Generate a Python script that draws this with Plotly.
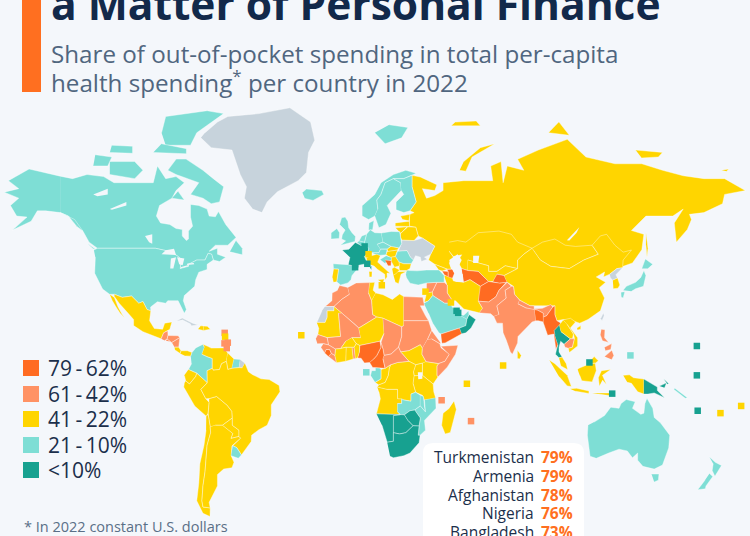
import numpy as np
import plotly.graph_objects as go

# ---- chart values -------------------------------------------------------
BUCKET_LABELS = ["79\u2009-\u200962%", "61\u2009-\u200942%", "41\u2009-\u200922%", "21\u2009-\u200910%", "<10%"]
BUCKET_COLORS = ["#FF6B22", "#FF9264", "#FFD500", "#7EDED5", "#17A190"]
NO_DATA_COLOR = "#C7D3DC"
TOP_COUNTRIES = ["Turkmenistan", "Armenia", "Afghanistan", "Nigeria", "Bangladesh"]
TOP_VALUES = ["79%", "79%", "78%", "76%", "73%"]

B1 = ["Turkmenistan", "Armenia", "Azerbaijan", "Afghanistan", "Tajikistan", "Nigeria", "Cameroon", "Sierra Leone", "Bangladesh", "Myanmar", "Yemen", "Bosnia"]
B2 = ["Morocco", "Algeria", "Egypt", "Mali", "Chad", "Sudan", "Ethiopia", "Eritrea", "Somalia", "CAR", "Senegal", "Guinea", "Togo", "Liberia", "Syria", "Iraq", "Pakistan", "India", "Nepal", "Cambodia", "Luzon", "Visayas", "Mindanao", "Guatemala", "Honduras", "El Salvador", "Nicaragua"]
B3 = ["Russia", "Sakhalin", "Novaya Zemlya", "Franz Josef", "Severnaya", "New Siberian", "Wrangel", "Kazakhstan", "Uzbekistan", "Kyrgyzstan", "Mongolia", "China", "Hainan", "Iran", "Jordan", "Georgia", "Portugal", "Italy", "Sicily", "Sardinia", "Hungary", "Slovakia", "Serbia", "Bulgaria", "Greece", "Albania", "Belarus", "Lithuania", "Latvia", "Estonia", "Mexico", "Baja", "Costa Rica", "Panama", "Haiti", "Dominican Rep", "Venezuela", "Guyana", "Ecuador", "Peru", "Bolivia", "Brazil", "Paraguay", "Chile", "Argentina", "Tunisia", "Libya", "Mauritania", "Niger", "Burkina", "Ghana", "Ivory Coast", "Benin", "South Sudan", "Kenya", "Uganda", "Tanzania", "DRC", "Congo", "Angola", "Madagascar", "South Korea", "Sri Lanka", "Laos", "Vietnam", "W Malaysia", "E Malaysia", "Kalimantan", "Sumatra", "Java", "Sulawesi", "Sunda", "W New Guinea"]
B4 = ["Canada", "Baffin", "Victoria I", "Ellesmere", "Banks", "Devon", "Melville", "Southampton", "Newfoundland", "Vancouver I", "USA", "Alaska", "Iceland", "UK", "Ireland", "Norway", "Svalbard", "Sweden", "Finland", "Denmark", "Germany", "Netherlands", "Belgium", "Poland", "Czechia", "Austria", "Spain", "Romania", "Croatia", "Turkey", "Saudi Arabia", "UAE", "Japan Honshu", "Japan Kyushu", "Japan Hokkaido", "Colombia", "Suriname", "Uruguay", "Gabon", "Zambia", "Malawi", "Mozambique", "Australia", "Tasmania", "NZ North", "NZ South", "Solomon"]
B5 = ["France", "Corsica", "Oman", "Thailand", "PNG", "New Britain", "New Ireland", "South Africa", "Namibia", "Botswana", "Zimbabwe"]
NO_DATA = ["Greenland", "W Sahara", "Ukraine", "North Korea", "Cuba", "French Guiana", "Taiwan"]
BUCKET_MEMBERS = [B1, B2, B3, B4, B5]

# Country outlines, simplified: "lon,lat lon,lat ..."
OUTLINES = {
"Russia": "28,59.5 30,60 28,60.5 31,63 29,67 29,69.8 33,69.4 41,67.5 40,66 34,66.5 36,64 40,64.7 44,66 44,68 54,68.5 60,68.5 68,68.5 67,72 72,73 73,68 75,72 83,71 80,73.5 90,75.5 104,77.7 113,74 127,72.5 140,72.5 150,71 160,69.7 170,69 180,69 190,66 180,65 179,62.5 170,60 163,59.5 164,58 162,55 156.7,51 155.7,57 160,61 155,59 142,59 135,54.7 141,53.5 140,48.5 135.5,44 131,42.8 130.7,42.3 128,45 125,50 118,50 108,48 98,50 87,48 80,50 71,53 61,52 55,49 47,48 49,46 47,44 48,41.8 46,41.8 40,43.5 37,45 38,47 40,49.7 34,52.3 32,53 30.8,55.7 27.8,56",
"Sakhalin": "142,54 143,49 142.5,46 142,50",
"Novaya Zemlya": "52,71 55,70.8 58,74 69,76.8 62,76 54,73",
"Franz Josef": "48,80.3 62,80.3 60,81.2 50,81",
"Severnaya": "95,79 105,78.5 100,81",
"New Siberian": "137,75.5 150,75 148,74 140,73.8",
"Wrangel": "178.5,71 182,71.3 181,70.8",
"Ukraine": "24,50.5 24,51.7 30,51.5 34,52.3 40,49.7 38,47 35,46 36.5,45.3 33.5,44.5 33,46 30.7,46.5 29.7,45 28.2,46 26.6,48.2 22.5,48",
"Belarus": "23.5,52.5 24,51.7 30,51.5 32,53 30.8,55.7 27,55.8 23.5,53.8",
"Lithuania": "21,55.5 26.6,55.8 23.5,53.8 22.8,54.4",
"Latvia": "21,57 24.5,57.3 27.7,57.5 27.8,55.9 21,56",
"Estonia": "23.5,59 28,59.5 27.5,57.6 24.5,58",
"Kazakhstan": "47,51 51,51.5 55,51 61,54 71,54.5 77,53.5 80,51 87,49 83,47 80,45 80,42 74,43 70,41 66,41 66,43 61,44 56,45 56,41.3 53,42 51,44.5 53,46.8 49,46.2 47,48",
"Uzbekistan": "56,45 61,44 66,43 66,41 70,41 73,40 68,37.3 66,37.3 61,41 56,41.3",
"Turkmenistan": "53,42 56,41.3 61,41 66,37.3 62,35.5 57,38 53.8,37",
"Kyrgyzstan": "70,41 74,43 80,42 73.5,39.5 70,40",
"Tajikistan": "68,37.3 70,40 73.5,39.5 75,37 71.5,36.7",
"Mongolia": "87,49 92,51 98,52 103,50 108,49.6 116,50 119,47 112,45 105,42 96,42.8 91,45",
"China": "73.5,39.5 80,42 80,45 83,47 87,49 91,45 96,42.8 105,42 112,45 119,47 116,50 120,53 123,53.5 127,50 131,47.7 135,48.4 131,45 130.7,42.3 128,42 124.5,40 121.5,39 122,40.8 118,39 122.5,37 119.5,35 122,31 120,26 114,22.5 110,21 108,21.6 102,22.5 99,22 98,24.5 98,28 92,28 86,28 81,30.2 78.5,32.5 78,35.5 75,37",
"Hainan": "108.7,19 110.5,20 110.5,18.5 109,18.2",
"Afghanistan": "61,35.5 62,35.5 66,37.3 71.5,36.7 74.5,37 71,34 69.5,31.5 66,29.5 61,29.8",
"Pakistan": "61,25.2 67,24.8 68.5,23.7 71,24.5 70,28 74.5,31 74,34 77,35.5 75,37 71,34 69.5,31.5 66,29.5 61,29.8 63,27",
"Iran": "44.5,39.5 48,39.5 49,37.5 54,37 57,38 62,35.5 61,29.8 63,27 61.5,25.2 57,26 54,26.7 50,30 48.5,30 46,33 46,36",
"Iraq": "38.8,33.4 41,37 44.5,37 46,36 46,33 48.5,30 47,29 44.8,29 39,32",
"Syria": "36,33 36,36.8 41,37 38.8,33.4",
"Jordan": "35,29.5 36,33 38.8,33.4 39,32 37,30",
"Turkey": "26,40 26.3,41.5 28,41.3 31.5,41.2 36,41.5 42,41.5 44.5,39.5 44.5,37 41,37 36,36.8 32,36 28,36.7 26.5,38.5",
"Georgia": "40,43.5 46,41.8 43.6,41.1 42,41.5",
"Armenia": "43.6,41.1 46.5,41 46.5,39 44.8,39.7",
"Azerbaijan": "46,41.7 48.5,41.8 49.5,40.3 48.5,38.5 46.5,39 46.5,41",
"Saudi Arabia": "34.7,29 37,30 39,32 44.8,29 47,29 48.5,27.5 50,26 51.5,24.5 55.5,22.7 55,20 52,19 48.5,18 43,16.5 42,17 39,21 37,25",
"Yemen": "43,16.5 48.5,18 52,19 53,16.6 45,12.8 43.5,12.7",
"Oman": "52,19 55,20 55.5,22.7 56.5,24.5 59.8,22.5 57.5,19 55,17 53,16.6",
"UAE": "51.5,24.5 54,24.2 56.3,26 56.5,24.5 55.5,22.7",
"India": "68.5,23.7 70,21 72.7,21 73,17 74.5,14 76.5,9 77.5,8 80,12.8 80.2,15.5 85,19.8 87,21.5 88.8,22 88.2,26.5 89.8,26.2 92.4,25 92,23 92.5,23.5 94,24 97,27.5 96,28.5 92,27 88,26.8 84,27.2 80.2,28.8 81,30.2 78.5,32.5 78,35.5 77,35.5 74,34 74.5,31 70,28 71,24.5",
"Nepal": "80.2,28.8 84,27.2 88,26.5 88,27.9 86,28 81,30.2",
"Bangladesh": "88.2,26.5 89.8,26.2 92.4,25 92.5,21.5 90,22 88.8,22",
"Myanmar": "92.5,21 94.5,16 97.5,16.5 98.5,10 99.5,12 98,16 101,21 100,21.5 99,22 98,24.5 98,28 97,27.5 94,24 92.5,23.5",
"Thailand": "98,16 97.7,18 100.2,20.3 101,17.5 105.5,14.5 102.5,12.2 100.8,13.5 100,11 100,9 101.5,6.8 100,6.5 98.3,8 98.8,10 99.5,12",
"Laos": "100.2,20.3 102,22.3 104,20.5 107,16.5 106.5,14.5 105.5,14.5 101,17.5",
"Cambodia": "102.5,12.2 105.5,14.5 107.5,14.6 106.5,11 104.5,10.5 103,11",
"Vietnam": "102,22.3 105.5,23 108,21.5 105.5,19 109,15 109,11.5 105,8.7 104.5,10.5 106.5,11 107.5,14.6 107,16.5 104,20.5",
"W Malaysia": "100,6.5 101.5,6.8 103.5,4 104.2,1.4 101,3",
"E Malaysia": "109.6,2 113,3.2 117,7 119,5.2 117.5,4.2 115,4",
"Kalimantan": "109,1.5 109.6,2 115,4 117.5,4.2 118,1 116,-3.8 111,-3.3 110,-1",
"Sumatra": "95.3,5.5 98,4 104,-1 106,-5.8 104,-5.5 100,-1.5",
"Java": "105.3,-6.7 108.5,-6.5 114.5,-7.7 114.4,-8.7 108,-7.8",
"Sulawesi": "119.5,-5.5 119,-2 120.5,1 125,1.5 121,-1 123,-5 121,-3",
"Sunda": "116,-8.5 125,-8.5 125,-9.7 119,-9",
"W New Guinea": "131,-1 134,-0.8 136,-2 141,-2.6 141,-9 138,-8 135,-4.4 133,-4",
"PNG": "141,-2.6 145,-4.5 147.5,-6 147.5,-7.5 151,-10.5 146,-8.5 143,-9 141,-9",
"New Britain": "148.5,-5.6 152,-4.2 151,-6.3",
"New Ireland": "150.5,-2.5 153,-4.5 152.5,-4.8",
"Solomon": "156,-6.5 162,-10.5 161,-10.8 155.5,-7",
"Luzon": "120.5,18.5 122.2,18.3 122,15 124,13 121,13.7 120,16",
"Visayas": "122,11 125.5,12.5 125,10 122.5,9.5",
"Mindanao": "122,7 125.5,9.7 126.5,7.5 125.5,5.8",
"Taiwan": "120.2,23 121.5,25.2 121.8,24 120.8,22",
"Japan Honshu": "131,34 132.5,35.5 137,37 139.5,38.8 141,41.3 142,39.5 140.8,35.5 137,34.6 135,33.6",
"Japan Kyushu": "130,33.3 131.8,33.5 131,31 130.2,31.3",
"Japan Hokkaido": "140,42 141.7,45.4 145.3,43.5 143,42",
"North Korea": "124.5,40 128,42 130.7,42.3 127.5,39.8 128.3,38.6 126,37.8 125,38.5",
"South Korea": "126,37.8 128.3,38.6 129.4,36 128.5,34.8 126.3,34.6",
"Sri Lanka": "80,9.7 81.8,7.5 81,6 80,6.2",
"Canada": "-141,69.6 -135,69 -128,70 -120,69.5 -115,68 -108,68 -102,68 -96,68 -94,72 -90,69 -85,69.5 -81,68 -85,66 -87,64 -93,62 -94.5,59 -92.5,57 -88,56.5 -85,55.3 -82,55 -82,53 -80,51.5 -79,52 -79,54.5 -77,56 -78,58.7 -78,62.3 -74,62 -70,61 -69,59 -66,58.8 -64.5,60.3 -61,56.5 -56,52.5 -60,50 -66,50 -69,48 -65,49 -65,47 -61,46 -64,44.5 -67,45 -67.8,47 -69.5,47.3 -71,45 -75,45 -79,43.5 -79,42.8 -83,42 -82.5,45.3 -84.5,46.5 -88.5,48 -95,49 -123,49 -127,51 -130,54.5 -133,56 -137,59 -141,60",
"Baffin": "-80,73.5 -72,71 -67,69 -62,67 -64,63 -68,62.5 -72,64 -78,65 -74,68 -85,70 -89,71 -85,73.5",
"Victoria I": "-117,70 -105,69 -101,71 -105,73 -117,73",
"Ellesmere": "-90,76.5 -78,76.5 -75,79 -62,82.5 -70,83 -90,82 -92,79",
"Banks": "-125,72 -118,72 -116,74 -124,74.5",
"Devon": "-96,75 -80,74.7 -80,75.8 -92,76.8",
"Melville": "-117,75 -106,74.8 -106,76.3 -116,76.5",
"Southampton": "-87,64 -81,63.5 -84,65.8",
"Newfoundland": "-59,47.8 -53,46.8 -53,49 -56,51.5",
"Vancouver I": "-128,50.7 -123.5,48.4 -125,48.8",
"USA": "-124.7,48.4 -123,49 -95,49 -88.5,48 -84.5,46.5 -82.5,45.3 -83,42 -79,42.8 -79,43.5 -75,45 -71,45 -69.5,47.3 -67.8,47 -67,45 -70,43.5 -70,41.7 -74,40.7 -75.5,38 -76,35.5 -78,34 -81,32 -81.5,30 -80,26.5 -81,25 -82.7,28 -84,30 -89,30 -90,29 -94,29.6 -97.3,27.5 -97.2,26 -99,26.5 -101,29.7 -103,29 -106.5,31.8 -111,31.3 -114.8,32.5 -117.1,32.5 -120.5,34.5 -122.5,37.5 -124.3,40.3 -124,46",
"Alaska": "-141,69.6 -156,71.3 -166,68.5 -161,66.5 -168,65.6 -161,64 -165,62 -162,59 -157,58.7 -164,54.8 -155,57.5 -152,60.5 -148,60.5 -141,60 -137,59 -133,56 -130,54.5 -134,58 -141,60",
"Mexico": "-114.8,32.5 -111,31.3 -106.5,31.8 -103,29 -101,29.7 -99,26.5 -97.2,26 -97.8,22 -95.5,18.8 -91.5,18.5 -90.5,21 -87,21.5 -88,18.5 -89,17.9 -91,17 -92.2,14.5 -96,15.7 -101,17.5 -105.5,20 -105.5,22.5 -109,25.8 -112.5,29 -114.7,31.5",
"Baja": "-117.1,32.5 -115.8,30 -114,27.5 -112,25 -109.7,23 -111,24.5 -113,27.5 -114.7,31",
"Guatemala": "-92.2,14.5 -91,17 -89,17.9 -88.9,15.9 -89.3,14.4 -90.5,13.8",
"Honduras": "-89.3,14.4 -88.9,15.9 -84,15.8 -83.2,15 -87,13",
"El Salvador": "-90,13.7 -89.3,14.4 -87.8,13.4",
"Nicaragua": "-87,13 -83.2,15 -83.7,11 -85.7,11",
"Costa Rica": "-85.7,11 -83.7,11 -82.6,9.5 -83,8.3 -85.5,9.8",
"Panama": "-83,8.3 -82.6,9.5 -79.5,9.5 -77.3,8.7 -77.9,7.2 -80.5,7.3",
"Cuba": "-84.9,21.9 -82,23.1 -77,21 -74.2,20.2 -77.7,19.9 -78,20.7 -82,22.4",
"Haiti": "-74.4,18.5 -71.7,18 -71.7,19.8 -73,19.9",
"Dominican Rep": "-71.7,18 -68.4,18.5 -69.9,19.7 -71.7,19.8",
"Colombia": "-77.9,7.2 -77.3,8.7 -75.5,10.7 -72,12.2 -71.3,11 -72.5,8 -70,7 -67.5,6.2 -67.5,2 -70,1 -69.8,-4.2 -72,-2.5 -75,-0.1 -79,1.5 -77.5,4",
"Venezuela": "-71.3,11 -72,12.2 -70,11.5 -68,10.6 -62,10.7 -60,8.5 -60.7,5 -63,4 -64,1.5 -67,1.2 -67.5,2 -67.5,6.2 -70,7 -72.5,8",
"Guyana": "-60,8.5 -57,6 -58,2 -60,1.5 -60.7,5",
"Suriname": "-57,6 -54,5.8 -54.5,2.3 -58,2",
"French Guiana": "-54,5.8 -51.7,4.2 -53,2.2 -54.5,2.3",
"Ecuador": "-79,1.5 -75,-0.1 -75.5,-1.5 -78.5,-4.7 -80.3,-3.4 -81,-1",
"Peru": "-80.3,-3.4 -78.5,-4.7 -75.5,-1.5 -75,-0.1 -72,-2.5 -69.9,-4.2 -73,-7 -70.6,-11 -69,-12.5 -69.5,-17 -70.4,-18.3 -76,-14 -81.3,-6 -81,-4.4",
"Bolivia": "-69,-10.9 -65.4,-10 -60.3,-13.7 -58,-16.3 -57.8,-19 -62.6,-22 -66,-22 -68.5,-22.7 -69.5,-17.5 -69,-12.5",
"Paraguay": "-62.6,-22 -57.8,-19 -57.8,-22 -54.6,-24 -54.6,-26.5 -58.5,-27.3 -57.6,-25.3",
"Chile": "-70.4,-18.3 -69.5,-17.5 -68.5,-22.7 -68.3,-25 -70,-30 -70.5,-35 -71,-40 -72,-45 -72.5,-50 -72,-52 -68.5,-52.3 -68.6,-55 -72,-54 -75,-50 -74,-44 -73.5,-37 -71.5,-30 -70.5,-24",
"Argentina": "-66,-22 -62.6,-22 -57.6,-25.3 -58.5,-27.3 -54.6,-26.5 -53.8,-27.2 -58,-30.2 -58.4,-34 -57,-36.5 -58,-38.5 -62,-39 -65,-41 -65,-45 -69,-50.5 -68.5,-52.3 -72,-52 -72.5,-50 -72,-45 -71,-40 -70.5,-35 -70,-30 -68.3,-25 -68.5,-22.7",
"Brazil": "-51.7,4.2 -50,0.5 -48,-0.7 -44,-2.5 -40,-2.8 -35.2,-5.3 -34.8,-8 -39,-13.5 -39,-18 -41,-22 -45,-23.8 -48.5,-26 -48.7,-28.5 -53.4,-33.7 -55.7,-30.9 -57.6,-30.2 -53.8,-27.2 -54.6,-26.5 -54.6,-24 -57.8,-22 -57.8,-19 -58,-16.3 -60.3,-13.7 -65.4,-10 -69,-10.9 -70.6,-11 -73,-7 -69.9,-4.2 -70,1 -67.5,2 -67,1.2 -64,1.5 -63,4 -60.7,5 -60,1.5 -58,2 -54.5,2.3 -53,2.2",
"Uruguay": "-57.6,-30.2 -55.7,-30.9 -53.4,-33.7 -54.9,-35 -58.4,-34",
"Greenland": "-73,78 -68,76 -58,75.5 -54,70 -51,67 -52,64 -48,61 -43.5,60 -41,63 -36,65.7 -26,68.5 -22,70.5 -21,75 -18,77.5 -20,81 -30,83.5 -45,82.5 -60,82 -65,81 -71,79",
"Svalbard": "11,79 16,76.8 24,78 27,80 18,80.5",
"Iceland": "-24,65.5 -22,66.4 -14.6,66 -13.6,65 -18.8,63.4 -22.7,63.9",
"UK": "-5.5,50 1.4,51.2 1.7,52.8 0,54 -1.6,55.5 -2,57.5 -3.3,58.7 -5,58.5 -6,56.5 -3.3,54.8 -4.7,53.3 -5,52 -3,51.4",
"Ireland": "-10,52 -6.2,52.2 -6,54 -7.3,55.3 -10,54",
"Spain": "-9,43.7 -1.8,43.4 3.2,42.4 0,39.5 -0.5,38 -2,36.8 -5.5,36 -7.4,37.2 -6.5,41.8 -8.8,41.9",
"Portugal": "-8.8,41.9 -6.5,41.8 -7.4,37.2 -9,37 -9.5,38.8",
"France": "-4.7,48.4 -1.5,48.7 1.6,50.9 4.2,50 8.2,49 7.6,47.5 6,46.2 7.5,43.8 3.2,43.2 3.2,42.4 -1.8,43.4 -1,46",
"Corsica": "8.6,42.5 9.5,43 9.4,41.5",
"Norway": "5,59 8,58 11,59 12.5,61 12,63.5 14,65 16,68 20,69 25,69 29,69.8 31,70.3 26,71 20,70 14,68 11,65 5,62",
"Sweden": "11,59 13,55.5 16.4,56.5 18.8,59.8 17,62 21.3,64.5 23.8,66 23.5,68 20,69 16,68 14,65 12,63.5 12.5,61",
"Finland": "23.8,66 25,65 21.3,63 21.3,60.8 25,60 28,60.5 31,63 29,67 29,69.8 25,69 20,69 23.5,68",
"Denmark": "8,54.9 8.2,57 10.6,57.7 10,55",
"Germany": "6,51 7,53.5 8.8,54.9 11,54 14.2,53.9 15,51 12.2,50.3 13.8,48.7 13,47.5 7.6,47.5 8.2,49 6.2,49.5",
"Netherlands": "3.4,51.4 4.7,53 7,53.5 6,51",
"Belgium": "2.5,51 3.4,51.4 6,51 6.2,49.5 4.2,50",
"Poland": "14.2,53.9 19,54.4 23,54.3 24,50.5 22.7,49.1 19,49.5 15,51",
"Czechia": "12.2,50.3 15,51 18.8,49.6 17,48.7 13.8,48.7",
"Slovakia": "17,48.7 18.8,49.6 22.5,49.1 22,48.4 17.5,47.9",
"Austria": "9.6,47.5 13,47.5 13.8,48.7 17,48.7 16.5,46.8 13,46.6",
"Hungary": "16.5,46.8 17,47.9 22,48.4 21,46.2 18.8,45.9",
"Italy": "7.5,43.8 6.9,45.8 8.5,46.3 12,47 13.7,46.5 12.4,44.3 13.5,43.5 16,41.8 18.5,40.2 16.9,40.4 17,39 16,38 15.8,40 12.4,41.7 10.5,43",
"Sicily": "12.5,38 15.6,38.2 15,36.7",
"Sardinia": "8.3,41 9.7,41 9.6,39 8.5,39",
"Romania": "21,46.2 22,48 26.6,48.2 28.2,46 29.7,45 28.6,43.7 25,43.7 22.7,44.3",
"Bulgaria": "22.7,44.3 25,43.7 28.6,43.7 28,42 26.3,41.3 23,41.3",
"Greece": "20,39.7 21,40.9 26.3,41 23.7,40 23,38 22.5,36.5 21,37",
"Serbia": "19,46 21,46.2 22.7,44.3 23,43 20.5,42.5 19,44.5",
"Croatia": "13.6,45.2 16.5,46.5 19,45.9 19,44.9 16,44 18.5,42.5",
"Bosnia": "16,45 19,44.8 18.8,43 17.5,43",
"Albania": "19.4,42 20.5,42.5 23,41.5 21,40 20,39.7",
"Morocco": "-5.9,35.8 -2,35.1 -1.2,32.5 -5,30.5 -8.7,27.7 -13,27.7 -9.7,30 -9.6,33 -7,34",
"W Sahara": "-13,27.7 -8.7,27.7 -8.7,26 -12,26 -12,23.4 -13,21.3 -17,21.3 -16,23.5 -14.5,26",
"Algeria": "-2,35.1 2,36.8 8.6,36.9 8,33 9.5,30 10,24.5 12,23.5 3.3,19 1.2,20.7 -4.8,25 -8.7,27.7 -5,30.5 -1.2,32.5",
"Tunisia": "8.6,36.9 11,37 10.2,34 11.5,33 9.5,30 8,33",
"Libya": "11.5,33 15,32.3 19.5,30.5 23,32.6 25,31.6 25,20 24,19.5 15,23 12,23.5 10,24.5 9.5,30",
"Egypt": "25,31.6 31,31.5 34.2,31.3 35,28 33,28 35.5,24 37,22 25,22",
"Mauritania": "-17,21.3 -13,21.3 -12,23.4 -12,26 -8.7,26 -8.7,27.7 -4.8,25 -6.5,25 -5.5,15.5 -12,15 -16.5,16.3 -16,19",
"Mali": "-4.8,25 1.2,20.7 3.3,19 4.2,15 0,15 -3,13.5 -5.5,10.4 -8,10.2 -11.4,12 -12,15 -5.5,15.5 -6.5,25",
"Niger": "3.3,19 12,23.5 15,23 15.5,16.8 13.5,13.5 3.7,11.7 2,12.5 0,15 4.2,15",
"Chad": "15,23 24,19.5 24,15.5 22.5,11 18.9,8.1 15.5,7.5 15,10 14,13 15.5,16.8",
"Sudan": "25,22 37,22 38.5,18 36.5,14.3 34,10.5 33,12 27.5,9.5 23.5,9 22.5,11 24,15.5 24,19.5 25,20",
"South Sudan": "23.5,9 27.5,9.5 33,12 34,10.5 33.8,8 35.8,4.8 34,4.2 30.8,3.5 27.5,5 24,8.5",
"Ethiopia": "36.5,14.3 38.5,14.5 42.4,12.5 43,10.8 47,8 44.9,5 41.8,4 35.8,4.8 33.8,8 34,10.5",
"Eritrea": "36.5,14.3 38.5,18 43,12.7 42.4,12.5 38.5,14.5",
"Somalia": "43,11.4 51.2,11.8 50,8 46,2.5 41.5,-1.7 41,-1 41,3 41.8,4 44.9,5 47,8",
"Kenya": "35.8,4.8 41.8,4 41,3 41,-1 41.5,-1.7 39.2,-4.7 34,-1 34,4.2",
"Uganda": "30.8,3.5 34,4.2 34,-1 30,-1.2 29.7,0.5",
"Tanzania": "30,-1.2 34,-1 39.2,-4.7 39.5,-8 40.4,-10.6 35,-11.5 34,-9.5 30.7,-8.2 29.5,-4.5",
"DRC": "12.2,-6 13,-5 16,-4 17.5,-1 18,2 18.6,3.5 22,4.5 27.5,5 30.8,3.5 29.7,0.5 30,-1.2 29.5,-4.5 30.7,-8.2 28.5,-9 28.5,-12 25,-11.5 22,-11 22,-7 17,-7",
"Congo": "11.2,-4 14,-2.5 14,1.5 16,2 18.6,3.5 18,2 17.5,-1 16,-4 13,-5",
"Gabon": "9,-1 9.5,1 11.3,1 11.3,2.3 13.3,2.2 14,1.5 14,-2.5 11.2,-4",
"Cameroon": "8.5,4.5 10,2.3 11.3,2.3 13.3,2.2 16,2 15,6 15.5,7.5 15,10 14,13 14,11 12,7.5 10.5,6 8.8,5",
"CAR": "15,6 16,2 18.6,3.5 22,4.5 27.5,5 24,8.5 23.5,9 22.5,11 18.9,8.1 15.5,7.5",
"Nigeria": "2.7,6.4 4.4,6.3 6,4.3 8.5,4.5 10.5,6 12,7.5 14,11 13.5,13.5 3.7,11.7 3.6,9",
"Benin": "1.6,6.2 2.7,6.4 3.6,9 3.7,11.7 2,12.5 1,11",
"Togo": "0.6,6 1.6,6.2 1,11 0,11",
"Ghana": "-3,5 0.6,6 0,11 -2.8,11",
"Burkina": "0,15 2,12.5 1,11 -2.8,11 -5.5,10.4 -3,13.5",
"Ivory Coast": "-7.5,4.4 -3,5 -2.8,11 -5.5,10.4 -8,10.2 -8.3,7.5",
"Liberia": "-11.4,7 -7.5,4.4 -8.3,7.5 -10,8.4",
"Sierra Leone": "-13.2,8.5 -11.4,7 -10,8.4 -10.8,10 -12.5,10",
"Guinea": "-15,10.9 -13.2,8.5 -12.5,10 -10.8,10 -10,8.4 -8.3,7.5 -8,10.2 -11.4,12 -13.7,12.5",
"Senegal": "-17.5,14.7 -16.5,16.3 -12,15 -11.4,12 -13.7,12.5 -16.7,12.4",
"Angola": "12.2,-6 17,-7 22,-7 22,-11 24,-11 24,-13 22,-13 22,-16.5 23.4,-17.6 18.5,-17.4 11.8,-17.3 13.7,-11 13,-8",
"Zambia": "22,-13 24,-13 24,-11 25,-11.5 28.5,-12 28.5,-9 30.7,-8.2 33,-9.5 33,-14 30.3,-15.7 28,-16 25.3,-17.7 23.4,-17.6 22,-16.5",
"Malawi": "33,-9.5 34.5,-10 35,-14 35.5,-16.5 33,-14",
"Mozambique": "40.4,-10.6 40.6,-15 35,-20 35.5,-24 32.9,-26 32,-26 32.4,-22.3 33,-19 30.3,-15.7 33,-14 35.5,-16.5 35,-11.5",
"Zimbabwe": "25.3,-17.7 28,-16 30.3,-15.7 33,-19 32.4,-22.3 29.5,-22.2 27,-20",
"Botswana": "20,-18 23.4,-17.6 25.3,-17.7 27,-20 29.5,-22.2 26,-25 23,-25.5 20,-25",
"Namibia": "11.8,-17.3 18.5,-17.4 23.4,-17.6 20,-18 20,-28.4 17,-28.8 14.5,-22",
"South Africa": "17,-28.8 20,-28.4 20,-25 23,-25.5 26,-25 29.5,-22.2 32.4,-22.3 32,-26 32.9,-26 32.4,-29 28,-33 25,-34 20,-34.8 18.4,-34.2",
"Madagascar": "49.3,-12 50.4,-15.5 47.5,-24.9 45,-25.5 43.3,-22 44,-17 47,-15",
"Australia": "114,-22 113.7,-26 115,-34.2 118,-35 124,-33 129,-31.5 133,-32.2 135.5,-34.8 138,-33 138,-35.7 140.5,-38 146,-39 150,-37.5 153,-31 153.5,-26 149,-21 146,-18.8 145.3,-15 142.5,-10.8 141.5,-13 141,-17 139.5,-17.5 135.5,-15 136.8,-12.2 132.5,-11.3 130,-13 129,-15 125,-14.5 122,-18 117,-20.7",
"Tasmania": "144.7,-40.8 148.3,-40.8 148,-43 146,-43.6",
"NZ North": "172.7,-34.5 175.5,-36.5 178.5,-37.7 177,-39.5 175.3,-41.6 174,-39.5 174.5,-37",
"NZ South": "172.7,-40.6 174.3,-41.7 171,-45 170.7,-46 167,-46.3 170.5,-43",
}

# Water bodies cut out of the land
LAKES = [
"-92,47 -85,46.7 -86,48.8 -90,48.3", "-87.8,42 -86.3,42 -85,46 -87.5,45.5",
"-84.5,46 -81,45.5 -81.8,43.2 -83.5,43.5", "-83,42 -79,42.8 -79,43.3 -82.5,42.6",
"-79.8,43.3 -76.2,43.5 -76.5,44 -79.5,43.8", "-125,65 -118,66.5 -118,65 -123,64.5",
"-117,61 -109,63 -109,62 -116,60.8", "-100,53 -96.5,53.5 -96.5,50.5 -98,51",
"47,45 51,47 53,45 51,42 53.5,40 54,37 50,37.2 49.5,40.3 47.5,43",
"58.5,46.5 61.5,46.5 61,44 58.5,44", "103.8,51.6 109.8,55.7 108.5,54 105,51.5",
"31.8,0.3 34,0.3 34,-2.5 32,-2.7",
]

# Small states drawn as squares: lon, lat, bucket
SMALL_LON = [-24.5, 6.9, 43.3, 57.5, 55.5, 73, 50.5, 51.3, 47.8, 114.7, 125.7, 134.5, 166.6, 166.6, 167, 178, 188, 6.1, 7.4, 1.5, 14.4, 8, -61.5, -61.3, -60, -61.6, -60.5, 35.5]
SMALL_LAT = [16, 0.3, -11.6, -20.3, -4.6, 3.2, 26, 25.2, 29.3, 4.5, -8.8, 7.5, 11.5, -1, -16, -17, -14, 49.6, 43.7, 42.5, 35.9, 47, 17, 15.4, 12.9, 12.6, 10.6, 33.5]
SMALL_BUCKET = [2, 3, 1, 1, 2, 2, 4, 4, 2, 4, 4, 3, 4, 4, 4, 2, 2, 4, 4, 4, 2, 2, 1, 2, 1, 1, 1, 2]


def project(lon, lat):
    """Stretched Miller cylindrical projection used by the map."""
    phi = np.radians(np.asarray(lat, dtype=float))
    x = 352 + 2.07 * np.asarray(lon, dtype=float)
    y = 373 - 134 * 1.25 * np.log(np.tan(np.pi / 4 + 0.4 * phi))
    return x, y


def parse(ring):
    pts = [p.split(",") for p in ring.split()]
    return [float(p[0]) for p in pts], [float(p[1]) for p in pts]


BG = "#F4F7FB"
DARK = "#1B2F4B"
fig = go.Figure()


def add_poly(ring, fill, name):
    lon, lat = parse(ring)
    x, y = project(lon, lat)
    fig.add_trace(go.Scatter(x=x, y=y, mode="lines", fill="toself", fillcolor=fill, name=name,
                             line=dict(color="rgba(255,255,255,0.65)", width=0.6), hoverinfo="name"))


color_of = {}
for members, colour in zip(BUCKET_MEMBERS, BUCKET_COLORS):
    for c in members:
        color_of[c] = colour
for c in NO_DATA:
    color_of[c] = NO_DATA_COLOR
for name, ring in OUTLINES.items():
    add_poly(ring, color_of[name], name)
for ring in LAKES:
    lon, lat = parse(ring)
    x, y = project(lon, lat)
    fig.add_trace(go.Scatter(x=x, y=y, mode="lines", fill="toself", fillcolor=BG,
                             line=dict(color=BG, width=0), hoverinfo="skip"))

sx, sy = project(SMALL_LON, SMALL_LAT)
fig.add_trace(go.Scatter(x=sx, y=sy, mode="markers", hoverinfo="skip",
                         marker=dict(symbol="square", size=6.5, color=[BUCKET_COLORS[b] for b in SMALL_BUCKET])))

shapes = [dict(type="rect", xref="x", yref="y", x0=22, x1=41, y0=0, y1=92, fillcolor="#FF6F20", line_width=0, layer="above"),
          dict(type="path", xref="x", yref="y", layer="above", fillcolor="#FFFFFF", line_width=0,
               path="M 423 560 L 423 453 Q 423 443 433 443 L 574 443 Q 584 443 584 453 L 584 560 Z")]
FONT = "Open Sans"
annotations = [
    dict(x=50, y=33, text="<b>a Matter of Personal Finance</b>", xanchor="left", yanchor="bottom", showarrow=False, xref="x", yref="y",
         font=dict(family=FONT, size=42.5, color="#12294A"), borderpad=0),
    dict(x=50, y=53, text="Share of out-of-pocket spending in total per-capita", xanchor="left", yanchor="middle", showarrow=False, xref="x", yref="y",
         font=dict(family=FONT, size=24.2, color="#50667F"), borderpad=0),
    dict(x=50, y=81, text="health spending<sup>*</sup> per country in 2022", xanchor="left", yanchor="middle", showarrow=False, xref="x", yref="y",
         font=dict(family=FONT, size=24.2, color="#50667F"), borderpad=0),
    dict(x=23, y=526, text="* In 2022 constant U.S. dollars", xanchor="left", yanchor="middle", showarrow=False, xref="x", yref="y",
         font=dict(family=FONT, size=14.5, color="#5A6F87"), borderpad=0),
]
LEGEND_Y = [368, 394, 419, 445, 470]
for lab, col, ly in zip(BUCKET_LABELS, BUCKET_COLORS, LEGEND_Y):
    shapes.append(dict(type="rect", xref="x", yref="y", x0=23, x1=39, y0=ly - 8, y1=ly + 8, fillcolor=col, line_width=0))
    annotations.append(dict(x=47, y=ly, text=lab, xanchor="left", yanchor="middle", showarrow=False, xref="x", yref="y",
                            font=dict(family=FONT, size=21, color=DARK), borderpad=0))
ROW_Y = [457, 475.5, 494.5, 513, 531.5]
for n, v, ry in zip(TOP_COUNTRIES, TOP_VALUES, ROW_Y):
    annotations.append(dict(x=535, y=ry, text=n, xanchor="right", yanchor="middle", showarrow=False, xref="x", yref="y",
                            font=dict(family=FONT, size=15.5, color=DARK), borderpad=0))
    annotations.append(dict(x=540, y=ry, text="<b>" + v + "</b>", xanchor="left", yanchor="middle", showarrow=False, xref="x", yref="y",
                            font=dict(family=FONT, size=15.5, color="#FF6F20"), borderpad=0))

fig.update_layout(width=750, height=536, margin=dict(l=0, r=0, t=0, b=0), showlegend=False,
                  paper_bgcolor=BG, plot_bgcolor=BG, shapes=shapes, annotations=annotations,
                  xaxis=dict(range=[0, 750], visible=False, fixedrange=True),
                  yaxis=dict(range=[536, 0], visible=False, fixedrange=True))
fig.write_html("out.html", config=dict(displayModeBar=False),
               post_script="document.body.style.margin='0';document.body.style.overflow='hidden';")
